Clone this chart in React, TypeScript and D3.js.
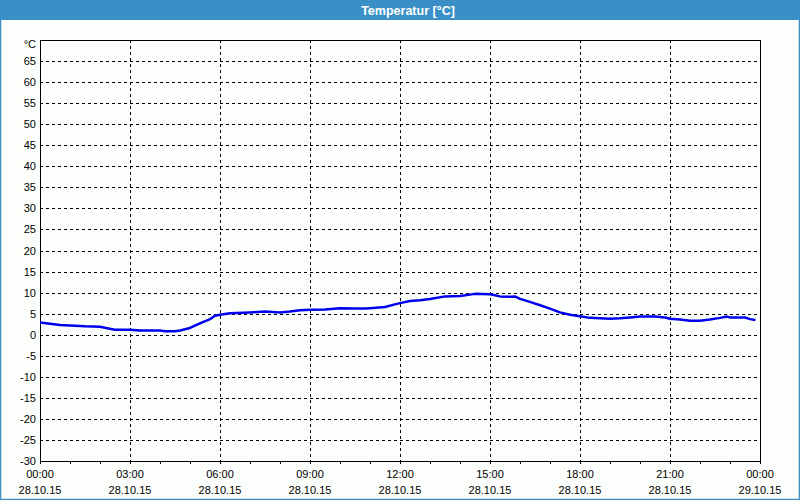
import React from "react";
import * as d3 from "d3";

const hours = [0, 0.33, 0.67, 1, 1.5, 2, 2.33, 2.5, 3, 3.33, 4, 4.17, 4.5, 4.67, 5, 5.33, 5.67, 5.83, 6, 6.33, 7, 7.5, 8, 8.33, 8.67, 9, 9.5, 10, 10.5, 10.83, 11, 11.5, 11.83, 12, 12.33, 12.67, 13, 13.5, 14, 14.5, 15, 15.33, 15.67, 15.83, 16, 16.33, 16.67, 17, 17.33, 17.67, 18, 18.33, 19, 19.33, 19.67, 20, 20.5, 20.83, 21, 21.33, 21.67, 22, 22.33, 22.67, 22.9, 23, 23.5, 23.67, 23.85];
const temps = [2.9, 2.6, 2.3, 2.2, 2.0, 1.9, 1.4, 1.2, 1.2, 1.0, 1.0, 0.8, 0.8, 1.0, 1.6, 2.7, 3.7, 4.5, 4.75, 5.1, 5.3, 5.5, 5.3, 5.5, 5.8, 5.9, 6.0, 6.3, 6.2, 6.2, 6.3, 6.6, 7.2, 7.5, 8.0, 8.2, 8.5, 9.1, 9.2, 9.7, 9.6, 9.1, 9.0, 9.1, 8.5, 7.8, 7.0, 6.2, 5.3, 4.75, 4.4, 4.0, 3.8, 3.9, 4.1, 4.3, 4.3, 4.1, 3.8, 3.6, 3.3, 3.3, 3.6, 4.0, 4.3, 4.1, 4.1, 3.7, 3.5];
const yTicks = [-30, -25, -20, -15, -10, -5, 0, 5, 10, 15, 20, 25, 30, 35, 40, 45, 50, 55, 60, 65];
const xTickHours = [0, 3, 6, 9, 12, 15, 18, 21, 24];
const xTimeLabels = ["00:00", "03:00", "06:00", "09:00", "12:00", "15:00", "18:00", "21:00", "00:00"];
const xDateLabels = ["28.10.15", "28.10.15", "28.10.15", "28.10.15", "28.10.15", "28.10.15", "28.10.15", "28.10.15", "29.10.15"];
const minorHours = d3.range(0, 25, 1);
const title = "Temperatur [°C]";
const unit = "°C";

export default function App() {
  const W = 800, H = 500;
  const left = 40, right = 760, top = 40, bottom = 461;
  const x = d3.scaleLinear().domain([0, 24]).range([left, right]);
  const y = d3.scaleLinear().domain([-30, 70]).range([bottom, top]);
  const pts: [number, number][] = hours.map((h, i) => [h, temps[i]]);
  const line = d3.line<[number, number]>().x(d => x(d[0])).y(d => y(d[1]));
  const font = "'Liberation Sans', Arial, sans-serif";
  const blue = "#3b8fc7";
  return (
    <svg width={W} height={H} style={{ position: "absolute", left: 0, top: 0 }} fontFamily={font}>
      <rect x={0} y={0} width={W} height={H} fill="#fcfefc" />
      <rect x={0} y={0} width={W} height={20} fill={blue} />
      <rect x={0.5} y={0.5} width={W - 1} height={H - 1} fill="none" stroke={blue} strokeWidth={1.5} />
      <text x={W / 2 + 8} y={14.5} textAnchor="middle" fill="#fff" fontSize={12.5} fontWeight="bold">{title}</text>
      <g shapeRendering="crispEdges">
        {yTicks.map(t => (
          <line key={"gy" + t} x1={left} x2={right} y1={Math.round(y(t)) + 0.5} y2={Math.round(y(t)) + 0.5} stroke="#000" strokeDasharray="3,3" />
        ))}
        {xTickHours.slice(1, -1).map(h => (
          <line key={"gx" + h} x1={Math.round(x(h)) + 0.5} x2={Math.round(x(h)) + 0.5} y1={top} y2={bottom} stroke="#000" strokeDasharray="3,3" />
        ))}
        {minorHours.map(h => (
          <line key={"mt" + h} x1={Math.round(x(h)) + 0.5} x2={Math.round(x(h)) + 0.5} y1={bottom} y2={bottom + 3} stroke="#000" />
        ))}
        <rect x={left + 0.5} y={top + 0.5} width={right - left} height={bottom - top} fill="none" stroke="#000" />
      </g>
      <path d={line(pts) || ""} fill="none" stroke="#0000ee" strokeWidth={2.5} strokeLinejoin="round" />
      {yTicks.map(t => (
        <text key={"yl" + t} x={36} y={y(t) + 4} textAnchor="end" fontSize={11} fill="#000">{t}</text>
      ))}
      <text x={36} y={y(70) + 8} textAnchor="end" fontSize={11} fill="#000">{unit}</text>
      {xTickHours.map((h, i) => (
        <g key={"xl" + i}>
          <text x={x(h)} y={478} textAnchor="middle" fontSize={11} fill="#000">{xTimeLabels[i]}</text>
          <text x={x(h)} y={494} textAnchor="middle" fontSize={11} fill="#000">{xDateLabels[i]}</text>
        </g>
      ))}
    </svg>
  );
}
